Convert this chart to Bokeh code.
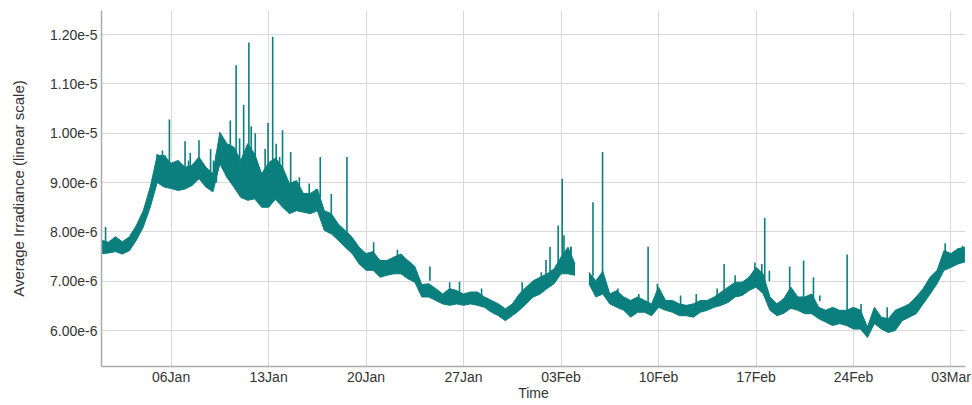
import numpy as np
import pandas as pd
from bokeh.plotting import figure
from bokeh.models import ColumnDataSource, FixedTicker, PrintfTickFormatter, DatetimeTickFormatter, Range1d
from bokeh.embed import file_html
from bokeh.resources import INLINE

# ---- data (values in units of 1e-6) ----
start_time = "2019-01-01 00:00"
sample_step = "12h"
# upper edge of the noisy band, every 12 hours from 01 Jan (NaN = data gap)
band_high = [
    7.83, 7.79, 7.90, 7.80, 7.90, 8.13, 8.43, 8.91, 9.55, 9.55,   # d 0 - 4.5
    9.39, 9.45, 9.31, 9.35, 9.52, 9.31, 9.18, 10.02, 9.79, 9.72,  # d 5 - 9.5
    9.45, 9.79, 9.58, 9.18, 9.40, 9.50, 9.31, 8.98, 9.04, 8.78,   # d 10 - 14.5
    8.78, 8.87, 8.43, 8.37, 8.16, 8.03, 7.89, 7.69, 7.56, 7.60,   # d 15 - 19.5
    7.42, 7.42, 7.49, 7.55, 7.42, 7.30, 6.93, 6.95, 6.85, 6.74,   # d 20 - 24.5
    6.85, 6.81, 6.74, 6.78, 6.78, 6.68, 6.61, 6.54, 6.44, 6.54,   # d 25 - 29.5
    6.74, 6.88, 7.01, 7.08, 7.15, 7.25, 7.49, 7.69, 7.35, np.nan, # d 30 - 34.5
    7.18, 7.01, 7.20, 6.74, 6.81, 6.68, 6.61, 6.68, 6.61, 6.54,   # d 35 - 39.5
    6.88, 6.61, 6.61, 6.54, 6.51, 6.54, 6.61, 6.61, 6.68, 6.78,   # d 40 - 44.5
    6.88, 6.98, 6.98, 7.08, 7.28, 7.15, 6.68, 6.54, 6.65, 6.88,   # d 45 - 49.5
    6.68, 6.68, 6.74, 6.47, 6.41, 6.47, 6.41, 6.41, 6.47, 6.41,   # d 50 - 54.5
    6.07, 6.47, 6.27, 6.24, 6.41, 6.47, 6.54, 6.68, 6.85, 7.08,   # d 55 - 59.5
    7.22, 7.62, 7.56, 7.66, 7.69,                                 # d 60 - 62
]
# lower edge of the noisy band
band_low = [
    7.56, 7.57, 7.60, 7.55, 7.62, 7.83, 8.10, 8.50, 9.00, 8.91,
    8.88, 8.84, 8.87, 8.94, 9.08, 8.91, 8.81, 9.38, 9.11, 8.91,
    8.70, 8.64, 8.67, 8.50, 8.50, 8.66, 8.50, 8.37, 8.43, 8.40,
    8.37, 8.43, 8.03, 7.96, 7.83, 7.69, 7.56, 7.35, 7.22, 7.22,
    7.08, 7.12, 7.15, 7.15, 7.05, 6.98, 6.68, 6.68, 6.61, 6.54,
    6.51, 6.54, 6.51, 6.54, 6.51, 6.47, 6.37, 6.30, 6.20, 6.30,
    6.41, 6.54, 6.68, 6.74, 6.85, 6.95, 7.15, 7.15, 7.12, np.nan,
    6.95, 6.68, 6.74, 6.54, 6.47, 6.41, 6.27, 6.37, 6.37, 6.30,
    6.47, 6.41, 6.37, 6.30, 6.30, 6.27, 6.37, 6.41, 6.47, 6.51,
    6.57, 6.68, 6.71, 6.81, 6.88, 6.75, 6.41, 6.30, 6.35, 6.45,
    6.41, 6.34, 6.34, 6.24, 6.17, 6.10, 6.14, 6.10, 6.03, 6.03,
    5.86, 6.14, 6.03, 5.96, 6.00, 6.20, 6.27, 6.34, 6.54, 6.74,
    6.95, 7.22, 7.28, 7.35, 7.39,
]
# flare spikes and spiky noise above the band: time, base of spike, peak
spike_time = [
    "2019-01-01 07:00", "2019-01-05 21:00", "2019-01-07 00:00", "2019-01-08 00:00",
    "2019-01-09 01:00", "2019-01-10 16:00", "2019-01-11 05:00", "2019-01-11 14:00",
    "2019-01-11 18:00", "2019-01-12 01:00", "2019-01-12 23:00", "2019-01-13 07:00",
    "2019-01-14 00:00", "2019-01-14 14:00", "2019-01-16 17:00", "2019-01-17 12:00",
    "2019-01-18 15:00", "2019-01-26 00:00", "2019-01-26 17:00", "2019-02-02 19:00",
    "2019-02-03 02:00", "2019-02-03 05:00", "2019-02-03 17:00", "2019-02-05 07:00",
    "2019-02-05 23:30", "2019-02-09 06:00", "2019-02-14 17:00", "2019-02-17 15:00",
    "2019-02-19 10:00", "2019-02-20 10:00", "2019-02-21 03:00", "2019-02-23 13:00",
    "2019-03-02 14:00",
    # smaller noise spikes
    "2019-01-05 00:00", "2019-01-05 09:00", "2019-01-05 14:00", "2019-01-06 05:00",
    "2019-01-06 15:00", "2019-01-07 09:00", "2019-01-07 06:00", "2019-01-08 20:00",
    "2019-01-09 06:00", "2019-01-10 06:00", "2019-01-10 22:00", "2019-01-12 18:00",
    "2019-01-13 13:00", "2019-01-13 19:00", "2019-01-15 05:00", "2019-01-15 22:00",
    "2019-01-16 10:00", "2019-01-20 13:00", "2019-01-22 06:00", "2019-01-24 14:00",
    "2019-01-28 07:00", "2019-01-31 05:00", "2019-02-01 14:00", "2019-02-01 22:00",
    "2019-02-02 05:00", "2019-02-03 17:00", "2019-02-07 02:00", "2019-02-08 14:00",
    "2019-02-09 22:00", "2019-02-11 14:00", "2019-02-12 17:00", "2019-02-14 05:00",
    "2019-02-15 12:00", "2019-02-16 22:00", "2019-02-17 10:00", "2019-02-17 23:00",
    "2019-02-21 14:00", "2019-02-24 13:00", "2019-02-26 10:00", "2019-02-28 14:00",
    "2019-03-03 07:00", "2019-03-03 20:00",
]
spike_base = [
    7.70, 9.20, 9.10, 9.30, 9.00, 9.30, 9.20, 9.20,
    9.00, 9.00, 9.00, 9.00, 9.00, 8.80, 8.70, 8.20,
    7.90, 6.70, 6.70, 7.30, 7.40, 7.40, 7.40, 7.10,
    7.00, 6.50, 6.70, 7.00, 6.70, 6.60, 6.60, 6.30,
    7.40,
    9.20, 9.10, 9.10, 9.10, 9.10, 9.20, 9.20, 9.00,
    9.00, 9.20, 9.10, 9.00, 9.00, 9.00, 8.70, 8.70,
    8.60, 7.35, 7.35, 7.30, 6.70, 6.55, 6.90, 7.00,
    7.00, 7.30, 6.65, 6.50, 6.55, 6.50, 6.45, 6.55,
    6.70, 6.90, 7.00, 7.00, 6.60, 6.30, 6.20, 6.50,
    7.45, 7.50,
]
spike_peak = [
    8.10, 10.28, 9.84, 9.86, 9.45, 11.38, 10.58, 11.84,
    10.14, 10.00, 10.21, 11.96, 10.06, 9.62, 9.52, 8.77,
    9.52, 6.98, 6.99, 8.13, 9.08, 7.93, 7.70, 8.60,
    9.62, 7.70, 7.35, 8.28, 7.30, 7.42, 7.08, 7.54,
    7.77,
    9.58, 9.65, 9.55, 9.25, 9.22, 9.60, 9.45, 9.68,
    9.58, 10.26, 9.90, 9.68, 9.79, 9.52, 9.11, 8.98,
    8.87, 7.79, 7.64, 7.01, 6.85, 6.98, 7.18, 7.43,
    7.70, 7.70, 6.85, 6.74, 6.95, 6.71, 6.74, 6.85,
    7.12, 7.38, 7.35, 7.21, 6.71, 6.54, 6.47, 6.71,
    7.62, 7.72,
]
scale = 1e-6
y_ticks = [6.0, 7.0, 8.0, 9.0, 10.0, 11.0, 12.0]
x_ticks = ["2019-01-06", "2019-01-13", "2019-01-20", "2019-01-27", "2019-02-03",
           "2019-02-10", "2019-02-17", "2019-02-24", "2019-03-03"]
x_range_dates = ["2019-01-01 00:00", "2019-03-04 01:00"]
y_range_vals = [5.27, 12.49]

TEAL = "#0a7f7e"

# ---- build sources ----
hi = np.array(band_high, dtype=float) * scale
lo = np.array(band_low, dtype=float) * scale
times = pd.date_range(start_time, periods=len(hi), freq=sample_step)
valid = ~np.isnan(hi)
# split into continuous segments at data gaps
segments = []
cur = []
for i in range(len(hi)):
    if valid[i]:
        cur.append(i)
    elif cur:
        segments.append(cur)
        cur = []
if cur:
    segments.append(cur)

p = figure(width=972, height=405, x_axis_type="datetime",
           output_backend="svg", toolbar_location=None,
           min_border_left=101, min_border_right=7, min_border_top=10, min_border_bottom=39)
p.x_range = Range1d(pd.Timestamp(x_range_dates[0]), pd.Timestamp(x_range_dates[1]))
p.y_range = Range1d(y_range_vals[0] * scale, y_range_vals[1] * scale)

for seg in segments:
    src = ColumnDataSource(dict(t=times[seg], hi=hi[seg], lo=lo[seg]))
    p.varea(x="t", y1="lo", y2="hi", source=src, fill_color=TEAL, fill_alpha=1.0)
    p.line(x="t", y="hi", source=src, line_color=TEAL, line_width=1.0)
    p.line(x="t", y="lo", source=src, line_color=TEAL, line_width=1.0)

spk = ColumnDataSource(dict(
    t=pd.to_datetime(spike_time),
    b=np.array(spike_base) * scale,
    pk=np.array(spike_peak) * scale,
))
p.segment(x0="t", y0="b", x1="t", y1="pk", source=spk, line_color=TEAL, line_width=1.6)

# ---- axes / styling ----
p.outline_line_color = None
p.background_fill_color = "white"
p.border_fill_color = "white"

p.xaxis.ticker = FixedTicker(ticks=[pd.Timestamp(d).value / 1e6 for d in x_ticks])
p.xaxis.formatter = DatetimeTickFormatter(days="%d%b", months="%d%b", hours="%d%b",
                                          years="%d%b", hourmin="%d%b")
p.yaxis.ticker = FixedTicker(ticks=[v * scale for v in y_ticks])
p.yaxis.formatter = PrintfTickFormatter(format="%.2e")

p.xaxis.axis_label = "Time"
p.yaxis.axis_label = "Average Irradiance (linear scale)"
for ax in (p.xaxis, p.yaxis):
    ax.axis_label_text_font = "Liberation Sans"
    ax.axis_label_text_font_style = "normal"
    ax.axis_label_text_font_size = "15px"
    ax.axis_label_text_color = "#333333"
    ax.major_label_text_font = "Liberation Sans"
    ax.major_label_text_font_size = "14px"
    ax.major_label_text_color = "#333333"
    ax.axis_line_color = "#aaaaaa"
    ax.axis_line_width = 1.5
    ax.major_tick_line_color = None
    ax.minor_tick_line_color = None
    ax.major_tick_out = 0
    ax.major_tick_in = 0
    ax.minor_tick_out = 0
    ax.minor_tick_in = 0
p.xaxis.axis_label_text_font_size = "14px"
p.xaxis.axis_label_standoff = -3
p.yaxis.axis_label_standoff = 20
p.xaxis.major_label_standoff = 2
p.yaxis.major_label_standoff = 4

p.xgrid.grid_line_color = "#d9d9d9"
p.ygrid.grid_line_color = "#d9d9d9"
p.xgrid.grid_line_width = 1
p.ygrid.grid_line_width = 1

open("out.html", "w").write(file_html(p, INLINE))
